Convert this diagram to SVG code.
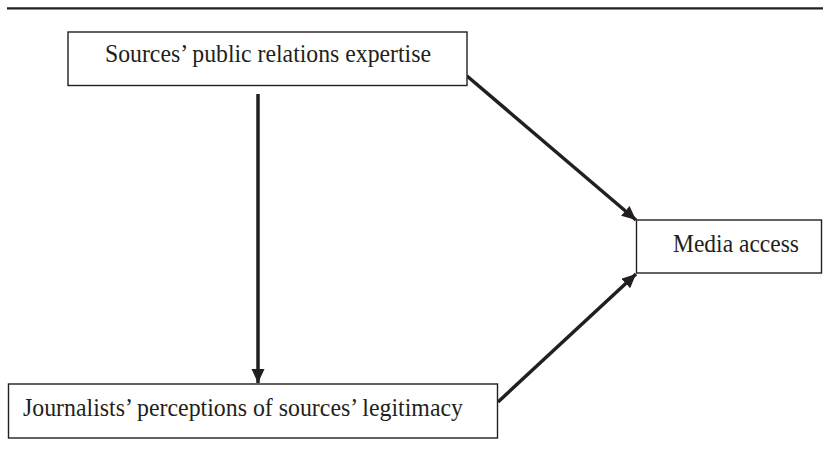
<svg xmlns="http://www.w3.org/2000/svg" width="823" height="457" viewBox="0 0 823 457">
<style>
.box{fill:#fff;stroke:#231f20;stroke-width:1.4}
.lbl{font-family:"Liberation Serif","Times New Roman",serif;font-size:25px;fill:#231f20}
.conn{stroke:#231f20;stroke-width:3.5;fill:none;marker-end:url(#ah)}
</style>
<defs>
<marker id="ah" markerUnits="userSpaceOnUse" markerWidth="15" markerHeight="14" refX="14" refY="6.5" orient="auto">
<path d="M0,0 L14,6.5 L0,13 z" fill="#231f20"/>
</marker>
</defs>
<rect x="0" y="0" width="823" height="457" fill="#fff"/>
<line x1="7" y1="8.3" x2="823" y2="8.3" stroke="#231f20" stroke-width="2.2"/>
<g id="connectors">
<line class="conn" x1="258" y1="94" x2="258" y2="383"/>
<line class="conn" x1="467" y1="76" x2="636" y2="220"/>
<line class="conn" x1="498" y1="402" x2="636" y2="274"/>
</g>
<g id="pr">
<rect class="box" x="68" y="32" width="399" height="53.5"/>
<text class="lbl" x="105" y="62" textLength="326" lengthAdjust="spacingAndGlyphs">Sources’ public relations expertise</text>
</g>
<g id="media">
<rect class="box" x="636.5" y="220" width="185" height="53"/>
<text class="lbl" x="673" y="252" textLength="126" lengthAdjust="spacingAndGlyphs">Media access</text>
</g>
<g id="legit">
<rect class="box" x="8.5" y="384" width="489" height="54"/>
<text class="lbl" x="23" y="416" textLength="440" lengthAdjust="spacingAndGlyphs">Journalists’ perceptions of sources’ legitimacy</text>
</g>
</svg>
